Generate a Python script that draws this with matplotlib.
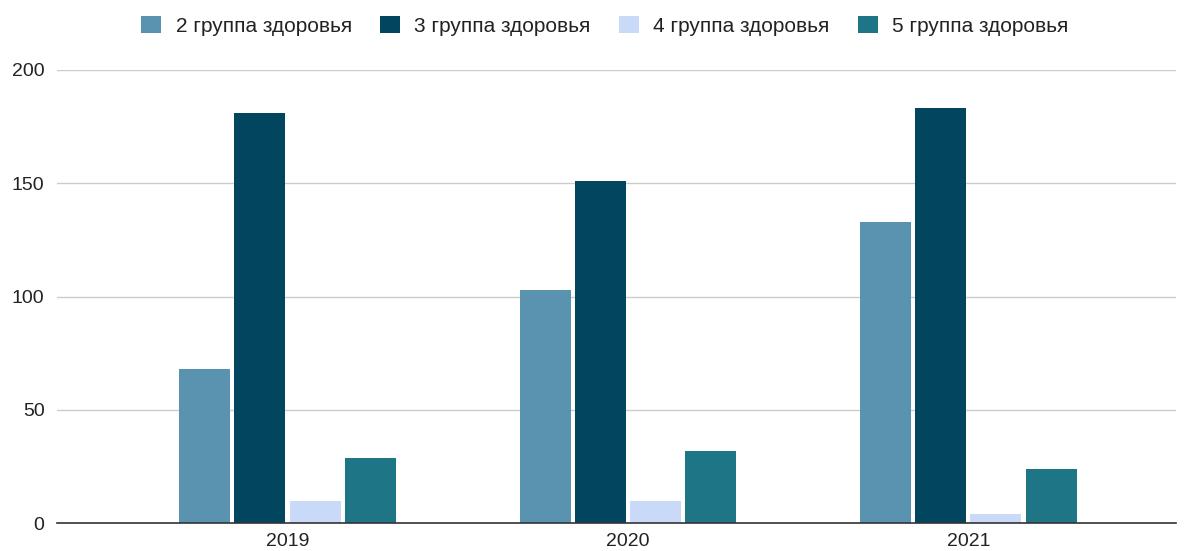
import matplotlib
matplotlib.use("Agg")
import matplotlib.pyplot as plt
import numpy as np

plt.rcParams["font.family"] = ["Liberation Sans", "DejaVu Sans"]

years = ["2019", "2020", "2021"]
series_names = ["2 группа здоровья", "3 группа здоровья", "4 группа здоровья", "5 группа здоровья"]
group2 = [68, 103, 133]
group3 = [181, 151, 183]
group4 = [10, 10, 4]
group5 = [29, 32, 24]
yticks = [0, 50, 100, 150, 200]

colors = ["#5a93b0", "#02455f", "#c9daf8", "#1e7585"]
series = [group2, group3, group4, group5]

fig = plt.figure(figsize=(11.86, 5.51), dpi=100)
ax = fig.add_axes([57 / 1186, 27.6 / 551, (1176 - 57) / 1186, (523.4 - 69.7) / 551])

x = np.arange(len(years))
bw = 0.15
step = 0.162
for i, (vals, col, name) in enumerate(zip(series, colors, series_names)):
    ax.bar(x + (i - 1.5) * step, vals, width=bw, color=col, label=name, zorder=3)

ax.set_xlim(-0.677, 2.61)
ax.set_ylim(0, 200)
ax.set_yticks(yticks)
ax.set_xticks(x)
ax.set_xticklabels(years)
ax.yaxis.grid(True, color="#cccccc", linewidth=1, zorder=0)
for s in ["top", "right", "left"]:
    ax.spines[s].set_visible(False)
ax.spines["bottom"].set_color("#333333")
ax.spines["bottom"].set_linewidth(1.2)
ax.spines["bottom"].set_zorder(4)
ax.tick_params(axis="both", length=0, labelsize=14, colors="#222222")
ax.tick_params(axis="y", pad=9)
ax.tick_params(axis="x", pad=7)

fig.legend(loc="center", bbox_to_anchor=(0.510, 0.953), ncol=4, frameon=False,
           fontsize=15, handlelength=0.95, handleheight=0.9, handletextpad=0.7,
           columnspacing=1.35, labelcolor="#222222")

fig.savefig("out.png", dpi=100)
